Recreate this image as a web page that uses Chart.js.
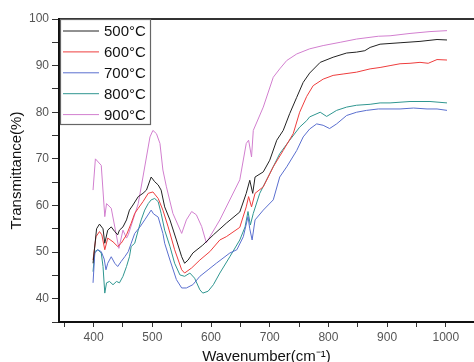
<!DOCTYPE html>
<html lang="en">
<head>
    <meta charset="UTF-8">
    <title>FTIR Transmittance</title>
    <script src="https://cdn.jsdelivr.net/npm/chart.js"></script>
    <style>
        body {
            margin: 0;
            padding: 0;
            background: #ffffff;
        }
        #wrap {
            width: 474px;
            height: 362px;
        }
    </style>
</head>
<body>
    <div id="wrap">
        <canvas id="ftirChart" width="474" height="362"></canvas>
    </div>

    <script>
        // series labels and colours
        const seriesNames = ['500°C', '600°C', '700°C', '800°C', '900°C'];
        const seriesColors = ['#222222', '#ee3d3d', '#5a6fcf', '#2f9690', '#d27fcf'];

        // wavenumber (cm-1) / transmittance (%)
        const wn500 = [399, 405, 410, 416, 419, 424, 430, 436, 441, 444, 450, 456, 461, 467, 476, 484, 490, 498, 504, 510, 515, 521, 530, 541, 550, 555, 561, 569, 586, 604, 626, 649, 660, 666, 671, 675, 689, 700, 712, 723, 734, 746, 757, 768, 786, 808, 831, 848, 862, 871, 888, 922, 956, 985, 1002];
        const t500 = [47.6, 55.0, 56.0, 55.0, 51.9, 54.7, 55.4, 54.4, 53.7, 54.7, 55.4, 56.9, 59.0, 60.1, 61.9, 62.6, 63.3, 66.1, 65.1, 64.4, 63.3, 59.7, 56.9, 52.6, 49.0, 47.6, 48.3, 49.8, 51.5, 53.7, 56.2, 58.6, 62.6, 65.4, 62.6, 66.1, 67.2, 69.7, 74.0, 76.1, 79.7, 83.2, 86.4, 88.4, 90.7, 91.8, 92.7, 92.9, 93.2, 93.9, 94.6, 94.9, 95.2, 95.6, 95.5];

        const wn600 = [399, 404, 410, 414, 419, 424, 433, 441, 447, 456, 464, 470, 476, 484, 493, 501, 510, 518, 527, 538, 550, 555, 567, 581, 598, 615, 626, 649, 660, 664, 669, 675, 689, 706, 723, 740, 751, 763, 774, 791, 808, 825, 848, 871, 888, 905, 922, 939, 956, 970, 985, 1002];
        const t600 = [48.3, 53.3, 54.4, 53.7, 50.5, 53.0, 52.2, 51.2, 51.9, 53.7, 56.2, 58.3, 59.4, 60.8, 62.6, 62.9, 61.5, 59.0, 55.4, 50.5, 46.2, 45.5, 46.6, 48.3, 50.1, 52.6, 53.3, 55.3, 59.7, 61.9, 59.7, 62.6, 64.0, 68.3, 71.8, 75.4, 80.0, 83.4, 85.7, 87.1, 87.9, 88.2, 88.6, 89.3, 89.6, 90.0, 90.4, 90.5, 90.7, 90.5, 91.3, 91.2];

        const wn700 = [399, 402, 407, 413, 418, 421, 424, 430, 436, 441, 447, 453, 459, 464, 470, 479, 487, 498, 502, 510, 518, 521, 530, 541, 550, 558, 569, 581, 595, 609, 632, 644, 655, 663, 666, 670, 675, 689, 706, 717, 729, 746, 757, 768, 780, 791, 802, 814, 831, 848, 865, 885, 922, 945, 968, 985, 1002];
        const t700 = [43.4, 49.8, 50.5, 50.1, 48.5, 46.2, 47.6, 49.0, 47.6, 46.9, 48.0, 49.0, 50.1, 51.9, 54.0, 55.4, 56.9, 59.0, 58.2, 57.5, 54.0, 51.9, 48.3, 44.1, 42.3, 42.3, 43.0, 44.8, 46.2, 47.6, 49.8, 50.5, 53.3, 57.6, 55.0, 52.6, 56.9, 59.0, 61.2, 66.1, 68.3, 71.8, 74.7, 76.4, 77.5, 77.2, 76.5, 77.5, 79.3, 80.0, 80.4, 80.7, 80.7, 80.9, 80.7, 80.7, 80.4];

        const wn800 = [399, 402, 407, 413, 416, 419, 422, 427, 433, 439, 444, 450, 456, 461, 464, 470, 476, 481, 487, 493, 498, 504, 510, 515, 521, 530, 538, 547, 555, 564, 572, 581, 586, 595, 604, 615, 632, 649, 658, 663, 667, 672, 683, 700, 717, 734, 751, 763, 768, 786, 797, 814, 831, 848, 871, 888, 905, 939, 973, 1002];
        const t800 = [45.8, 50.1, 50.5, 49.8, 46.9, 41.2, 43.4, 43.7, 43.0, 43.7, 43.4, 44.8, 46.9, 49.0, 51.2, 51.9, 54.7, 56.9, 59.0, 60.4, 61.2, 61.5, 60.8, 58.3, 54.7, 51.2, 47.6, 45.1, 44.8, 45.5, 44.4, 41.9, 41.2, 41.6, 43.0, 45.5, 49.0, 52.6, 55.4, 58.7, 55.8, 58.3, 62.6, 66.8, 71.1, 74.0, 76.8, 78.2, 79.0, 80.0, 79.1, 80.4, 81.1, 81.5, 81.7, 82.0, 82.0, 82.3, 82.3, 82.0];

        const wn900 = [399, 403, 413, 419, 422, 430, 443, 450, 456, 459, 476, 484, 496, 501, 507, 513, 518, 524, 535, 550, 558, 567, 575, 584, 592, 615, 649, 660, 664, 669, 672, 689, 706, 717, 729, 746, 768, 791, 820, 848, 885, 905, 939, 973, 1002];
        const t900 = [63.3, 70.0, 68.6, 57.6, 60.4, 59.4, 50.8, 54.7, 53.0, 53.7, 60.4, 66.1, 74.7, 76.1, 75.4, 73.3, 67.6, 64.0, 58.3, 54.0, 56.9, 58.7, 58.0, 55.5, 52.0, 56.9, 65.5, 73.3, 74.0, 70.4, 76.1, 81.1, 87.5, 89.3, 91.1, 92.5, 93.6, 94.3, 95.0, 95.7, 96.3, 96.4, 96.9, 97.3, 97.5];

        // axis ranges and tick labels
        const xRange = [341, 1048];
        const yRange = [35, 100];
        const xTickLabels = [400, 500, 600, 700, 800, 900, 1000];
        const yTickLabels = [40, 50, 60, 70, 80, 90, 100];

        const xs = [wn500, wn600, wn700, wn800, wn900];
        const ys = [t500, t600, t700, t800, t900];

        const datasets = seriesNames.map((name, i) => ({
            label: name,
            data: xs[i].map((x, j) => ({ x: x, y: ys[i][j] })),
            borderColor: seriesColors[i],
            backgroundColor: seriesColors[i],
            borderWidth: 1,
            pointRadius: 0,
            tension: 0,
            fill: false
        }));

        // legend box drawn inside the plot, top-left corner
        const legendBox = {
            id: 'legendBox',
            afterDatasetsDraw(chart) {
                const ctx = chart.ctx;
                const a = chart.chartArea;
                const x0 = a.left + 1, y0 = a.top;
                ctx.save();
                ctx.fillStyle = '#ffffff';
                ctx.fillRect(x0, y0, 90, 105);
                ctx.strokeStyle = '#666666';
                ctx.lineWidth = 1.2;
                ctx.strokeRect(x0 + 0.5, y0 + 0.5, 90, 105);
                ctx.font = '15px "Liberation Sans", Arial, sans-serif';
                ctx.textBaseline = 'middle';
                chart.data.datasets.forEach((ds, i) => {
                    const y = y0 + 12 + i * 20.9;
                    ctx.strokeStyle = ds.borderColor;
                    ctx.lineWidth = 1;
                    ctx.beginPath();
                    ctx.moveTo(x0 + 3, y);
                    ctx.lineTo(x0 + 39, y);
                    ctx.stroke();
                    ctx.fillStyle = '#111111';
                    ctx.fillText(ds.label, x0 + 44, y + 1);
                });
                ctx.restore();
            }
        };

        const tickFont = { size: 12, family: '"Liberation Sans", Arial, sans-serif' };
        const titleFont = { size: 15, family: '"Liberation Sans", Arial, sans-serif' };

        new Chart(document.getElementById('ftirChart'), {
            type: 'line',
            data: { datasets: datasets },
            options: {
                responsive: false,
                animation: false,
                plugins: {
                    legend: { display: false },
                    tooltip: { enabled: false }
                },
                layout: {
                    padding: { left: 8, top: 19, right: 0, bottom: 0 }
                },
                scales: {
                    x: {
                        type: 'linear',
                        min: xRange[0],
                        max: xRange[1],
                        afterFit: s => { s.height = 40; },
                        afterBuildTicks: s => { s.ticks = s.ticks.filter(t => t.value % 50 === 0); },
                        border: { display: true, color: '#111111', width: 2 },
                        grid: { drawOnChartArea: false, drawTicks: true, tickLength: 5, tickColor: '#333333' },
                        ticks: {
                            stepSize: 50,
                            includeBounds: false,
                            autoSkip: false,
                            maxRotation: 0,
                            padding: 3,
                            color: '#555555',
                            font: tickFont,
                            callback: v => xTickLabels.includes(v) ? String(v) : ''
                        },
                        title: {
                            display: true,
                            text: 'Wavenumber(cm⁻¹)',
                            color: '#111111',
                            padding: 0,
                            font: Object.assign({ lineHeight: 0.7 }, titleFont)
                        }
                    },
                    xTop: {
                        type: 'linear',
                        position: 'top',
                        min: xRange[0],
                        max: xRange[1],
                        afterFit: s => { s.height = 0; },
                        border: { display: true, color: '#333333', width: 2 },
                        grid: { display: false },
                        ticks: { display: false }
                    },
                    y: {
                        min: yRange[0],
                        max: yRange[1],
                        afterFit: s => { s.width = 51; },
                        border: { display: true, color: '#111111', width: 2 },
                        grid: { drawOnChartArea: false, drawTicks: true, tickLength: 7, tickColor: '#333333' },
                        ticks: {
                            stepSize: 5,
                            autoSkip: false,
                            padding: 3,
                            color: '#555555',
                            font: tickFont,
                            callback: v => yTickLabels.includes(v) ? String(v) : ''
                        },
                        title: {
                            display: true,
                            text: 'Transmittance(%)',
                            color: '#111111',
                            padding: 0,
                            font: Object.assign({ lineHeight: 1.2 }, titleFont)
                        }
                    }
                }
            },
            plugins: [legendBox]
        });
    </script>
</body>
</html>
